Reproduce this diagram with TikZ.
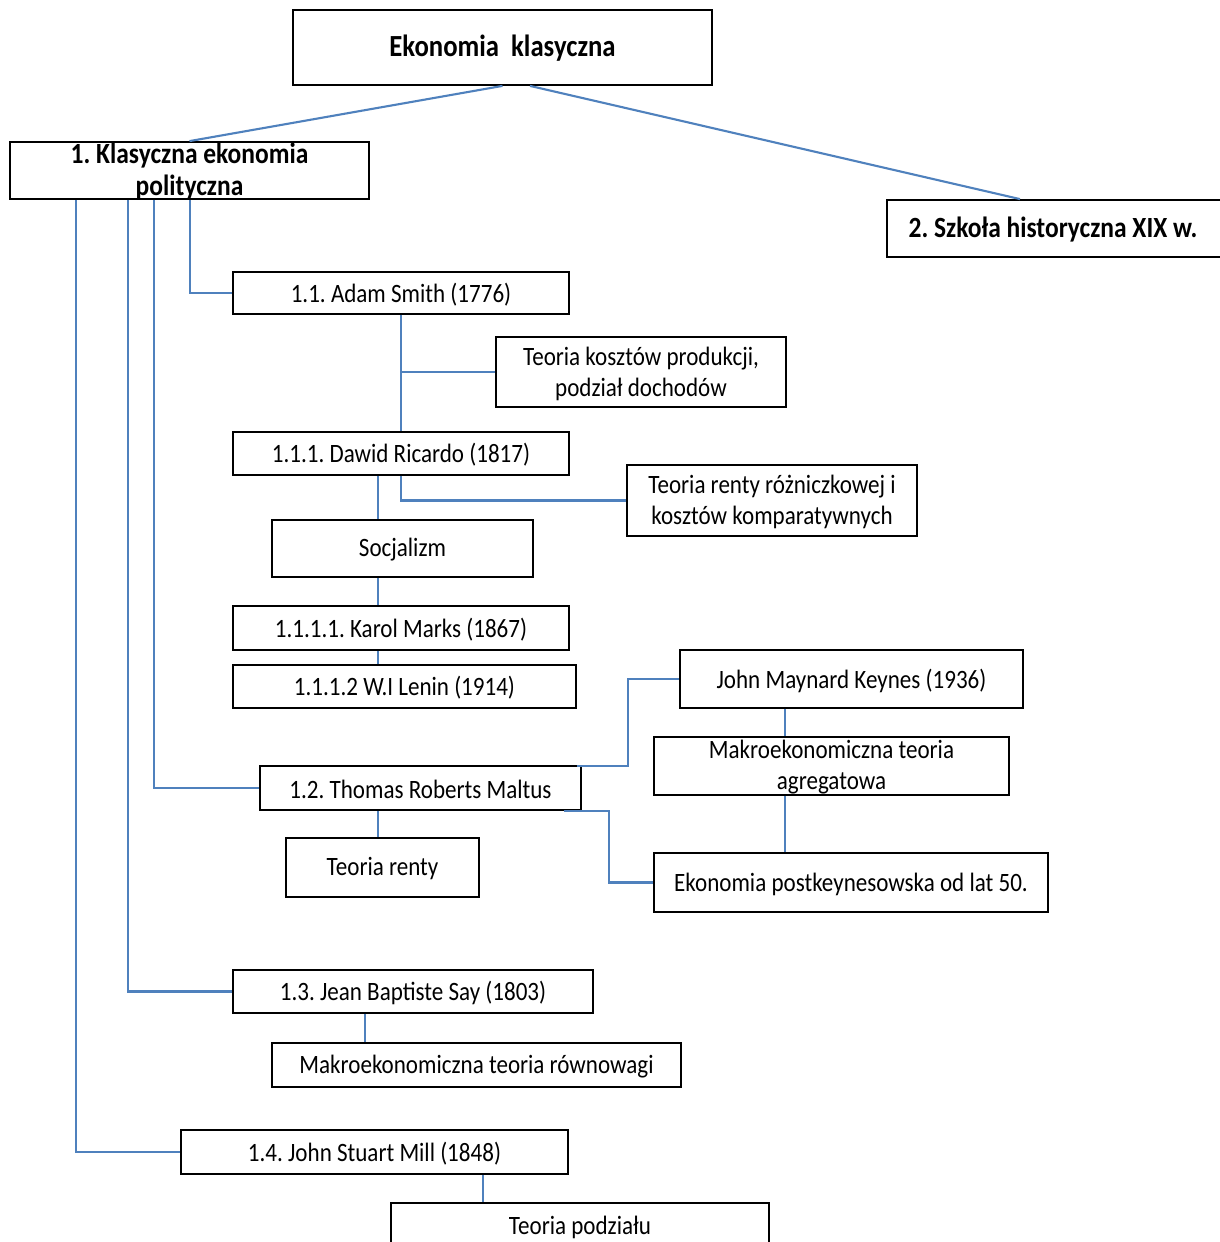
\documentclass[tikz,border=0pt]{standalone}
\usepackage{fontspec}
\setmainfont[FakeStretch=0.87]{Carlito}
\frenchspacing
\begin{document}
\begin{tikzpicture}[x=1pt,y=-1pt,
  box/.style={draw=black, line width=1.8pt, inner sep=0pt},
  txt/.style={font=\fontsize{26.5}{31}\selectfont, align=center, inner sep=0pt, yshift=-1.5pt},
  btxt/.style={font=\fontsize{29.3}{32}\selectfont\bfseries, align=center, inner sep=0pt, yshift=-1pt},
  conn/.style={draw={rgb,255:red,79;green,129;blue,189}, line width=2.1pt}]
\useasboundingbox (0,0) rectangle (1220,1242);
\clip (0,0) rectangle (1220,1242);
\fill[white] (0,0) rectangle (1220,1242);
% boxes
\node[box, minimum width=419, minimum height=75, label={[btxt, font=\fontsize{30.7}{32}\selectfont\bfseries]center:{Ekonomia\ \ klasyczna}}] (top) at (502.5,47.5) {};
\node[box, minimum width=359, minimum height=57, label={[btxt]center:{1. Klasyczna ekonomia\\polityczna}}] (kep) at (189.5,170.5) {};
\node[box, minimum width=334, minimum height=57, label={[btxt, xshift=-1]center:{2. Szkoła historyczna XIX w.}}] (szk) at (1054,228.5) {};
\node[box, minimum width=336, minimum height=42, label={[txt]center:{1.1. Adam Smith (1776)}}] (smith) at (401,293) {};
\node[box, minimum width=290, minimum height=70, label={[txt]center:{Teoria kosztów produkcji,\\podział dochodów}}] (tk) at (641,372) {};
\node[box, minimum width=336, minimum height=43, label={[txt]center:{1.1.1. Dawid Ricardo (1817)}}] (ricardo) at (401,453.5) {};
\node[box, minimum width=290, minimum height=71, label={[txt]center:{Teoria renty różniczkowej i\\kosztów komparatywnych}}] (tr) at (772,500.5) {};
\node[box, minimum width=261, minimum height=57, label={[txt]center:{Socjalizm}}] (soc) at (402.5,548.5) {};
\node[box, minimum width=336, minimum height=44, label={[txt]center:{1.1.1.1. Karol Marks (1867)}}] (marks) at (401,628) {};
\node[box, minimum width=343, minimum height=43, label={[txt]center:{1.1.1.2 W.I Lenin (1914)}}] (lenin) at (404.5,686.5) {};
\node[box, minimum width=343, minimum height=58, label={[txt]center:{John Maynard Keynes (1936)}}] (keynes) at (851.5,679) {};
\node[box, minimum width=355, minimum height=58, label={[txt]center:{Makroekonomiczna teoria\\agregatowa}}] (ma) at (831.5,766) {};
\node[box, minimum width=321, minimum height=44, label={[txt]center:{1.2. Thomas Roberts Maltus}}] (maltus) at (420.5,788) {};
\node[box, minimum width=193, minimum height=59, label={[txt]center:{Teoria renty}}] (trenty) at (382.5,867.5) {};
\node[box, minimum width=394, minimum height=59, label={[txt]center:{Ekonomia postkeynesowska od lat 50.}}] (pk) at (851,882.5) {};
\node[box, minimum width=360, minimum height=43, label={[txt]center:{1.3. Jean Baptiste Say (1803)}}] (say) at (413,991.5) {};
\node[box, minimum width=409, minimum height=44, label={[txt]center:{Makroekonomiczna teoria równowagi}}] (mr) at (476.5,1065) {};
\node[box, minimum width=387, minimum height=44, label={[txt]center:{1.4. John Stuart Mill (1848)}}] (mill) at (374.5,1152) {};
\node[box, minimum width=378, minimum height=46, label={[txt]center:{Teoria podziału}}] (tp) at (580,1226) {};
% helper columns
\coordinate (c76) at (76,0);
\coordinate (c128) at (128,0);
\coordinate (c154) at (154,0);
\coordinate (c190) at (190,0);
\coordinate (c378) at (378,0);
\coordinate (c365) at (365,0);
\coordinate (c483) at (483,0);
\coordinate (c785) at (785,0);
% connectors
\draw[conn] (top.south) -- (kep.north);
\draw[conn] ([xshift=27.5]top.south) -- ([xshift=-34]szk.north);
\draw[conn] (c190 |- kep.south) |- (smith.west);
\draw[conn] (c154 |- kep.south) |- (maltus.west);
\draw[conn] (c128 |- kep.south) |- (say.west);
\draw[conn] (c76 |- kep.south) |- (mill.west);
\draw[conn] (smith.south) -- (ricardo.north);
\draw[conn] (tk.west) -- (tk.west -| smith.south);
\draw[conn] (ricardo.south) |- (tr.west);
\draw[conn] (c378 |- ricardo.south) -- (c378 |- soc.north);
\draw[conn] (c378 |- soc.south) -- (c378 |- marks.north);
\draw[conn] (c378 |- marks.south) -- (c378 |- lenin.north);
\draw[conn] ([xshift=-5,yshift=-1]maltus.north east) -- ++(51,0) |- (keynes.west);
\draw[conn] ([xshift=-18]maltus.south east) -- ++(45,0) |- (pk.west);
\draw[conn] (c785 |- keynes.south) -- (c785 |- ma.north);
\draw[conn] (c785 |- ma.south) -- (c785 |- pk.north);
\draw[conn] (c378 |- maltus.south) -- (c378 |- trenty.north);
\draw[conn] (c365 |- say.south) -- (c365 |- mr.north);
\draw[conn] (c483 |- mill.south) -- (c483 |- tp.north);
\end{tikzpicture}
\end{document}
